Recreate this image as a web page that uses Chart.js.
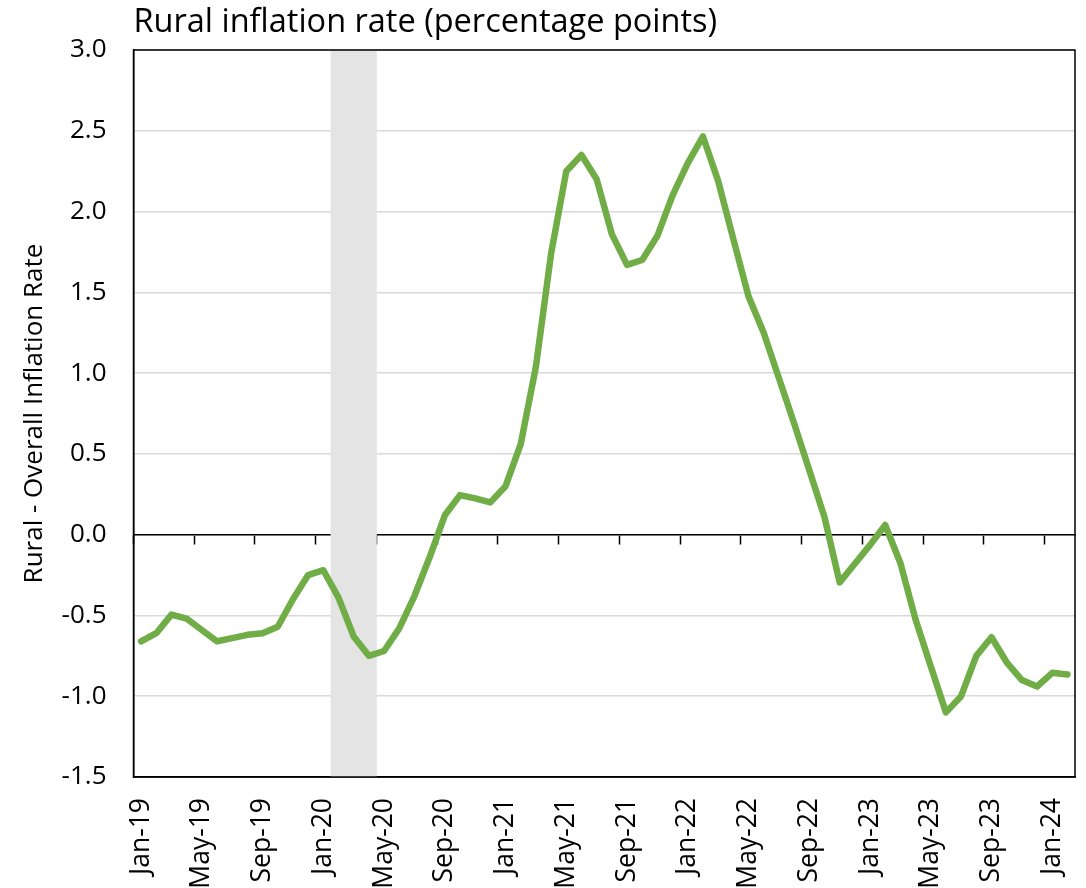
<!DOCTYPE html>
<html>
<head>
<meta charset="utf-8">
<script src="https://cdn.jsdelivr.net/npm/chart.js@4/dist/chart.umd.min.js"></script>
<style>
    html, body { margin: 0; padding: 0; background: #fff; }
    #wrap { width: 1086px; height: 888px; }
</style>
</head>
<body>
<div id="wrap"><canvas id="chart" width="1086" height="888"></canvas></div>
<script>
// Rural minus overall inflation rate, monthly, Jan-19 .. Feb-24
const monthNames = ['Jan', 'Feb', 'Mar', 'Apr', 'May', 'Jun', 'Jul', 'Aug', 'Sep', 'Oct', 'Nov', 'Dec'];
const years = ['19', '20', '21', '22', '23', '24'];

const gap2019 = [-0.66, -0.61, -0.495, -0.52, -0.59, -0.66, -0.64, -0.62, -0.61, -0.57, -0.40, -0.25];
const gap2020 = [-0.22, -0.39, -0.63, -0.75, -0.72, -0.58, -0.38, -0.14, 0.12, 0.245, 0.225, 0.20];
const gap2021 = [0.30, 0.56, 1.04, 1.74, 2.25, 2.35, 2.20, 1.86, 1.67, 1.70, 1.85, 2.10];
const gap2022 = [2.30, 2.465, 2.19, 1.83, 1.475, 1.25, 0.97, 0.69, 0.40, 0.11, -0.295, -0.18];
const gap2023 = [-0.065, 0.06, -0.175, -0.525, -0.815, -1.10, -1.00, -0.75, -0.635, -0.79, -0.90, -0.94];
const gap2024 = [-0.855, -0.865];

// shaded recession months
const recessionMonths = ['Feb-20', 'Mar-20', 'Apr-20'];

const yMin = -1.5;
const yMax = 3.0;
const yStep = 0.5;

const gapValues = [].concat(gap2019, gap2020, gap2021, gap2022, gap2023, gap2024);

const labels = [];
years.forEach(y => {
    monthNames.forEach(m => {
        if (labels.length < gapValues.length) labels.push(`${m}-${y}`);
    });
});

const shadeData = labels.map(l => recessionMonths.includes(l) ? [yMin, yMax] : null);

const FONT = '"Open Sans", Lato, sans-serif';

// black frame round the plot area
const framePlugin = {
    id: 'frame',
    afterDraw(chart) {
        const a = chart.chartArea;
        const ctx = chart.ctx;
        ctx.save();
        ctx.strokeStyle = '#000';
        ctx.lineWidth = 1.5;
        ctx.strokeRect(a.left, a.top, a.right - a.left, a.bottom - a.top);
        ctx.restore();
    }
};

new Chart(document.getElementById('chart').getContext('2d'), {
    data: {
        labels: labels,
        datasets: [
            {
                type: 'line',
                label: 'Rural - Overall',
                data: gapValues,
                borderColor: '#70AD47',
                borderWidth: 6.5,
                tension: 0,
                pointRadius: 0,
                borderCapStyle: 'round',
                borderJoinStyle: 'round',
                order: 1
            },
            {
                type: 'bar',
                label: 'Recession',
                data: shadeData,
                backgroundColor: '#E4E4E4',
                barPercentage: 1,
                categoryPercentage: 1,
                order: 2
            }
        ]
    },
    options: {
        responsive: false,
        animation: false,
        layout: { padding: { left: 0, right: 11, top: 0, bottom: 0 } },
        plugins: {
            legend: { display: false },
            tooltip: { enabled: false },
            title: {
                display: true,
                text: 'Rural inflation rate (percentage points)',
                align: 'start',
                fullSize: false,
                color: '#000',
                font: { family: FONT, size: 32.5, weight: 'normal', lineHeight: 1.2 },
                padding: { top: 3, bottom: 8 }
            }
        },
        scales: {
            x: {
                type: 'category',
                offset: true,
                grid: { display: false, offset: true },
                border: { display: true, color: '#000', width: 1.5 },
                ticks: {
                    autoSkip: false,
                    maxRotation: 90,
                    minRotation: 90,
                    padding: 13,
                    color: '#000',
                    font: { family: FONT, size: 26.5 },
                    callback: (v, i) => i % 4 === 0 ? labels[i] : ''
                },
                afterFit: s => {
                    s.height = 111;
                    s.paddingLeft = 0;
                    s.paddingRight = 0;
                }
            },
            xZero: {
                type: 'category',
                position: { y: 0 },
                offset: true,
                grid: {
                    offset: true,
                    drawOnChartArea: false,
                    drawTicks: true,
                    tickLength: 9,
                    tickWidth: 1.5,
                    tickColor: c => (c.index % 4 === 0 && c.index < labels.length) ? '#000' : 'rgba(0,0,0,0)'
                },
                border: { display: true, color: '#000', width: 1.5 },
                ticks: { display: false, autoSkip: false }
            },
            y: {
                min: yMin,
                max: yMax,
                border: { display: true, color: '#000', width: 1.5 },
                grid: {
                    color: '#D9D9D9',
                    lineWidth: 1.5,
                    drawTicks: false
                },
                ticks: {
                    stepSize: yStep,
                    padding: 27,
                    color: '#000',
                    font: { family: FONT, size: 26 },
                    callback: v => v.toFixed(1)
                },
                title: {
                    display: true,
                    text: 'Rural - Overall Inflation Rate',
                    color: '#000',
                    font: { family: FONT, size: 26, lineHeight: 1.2 },
                    padding: { top: 19, bottom: 0 }
                },
                afterFit: s => { s.width = 133.5; }
            }
        }
    },
    plugins: [framePlugin]
});
</script>
</body>
</html>
